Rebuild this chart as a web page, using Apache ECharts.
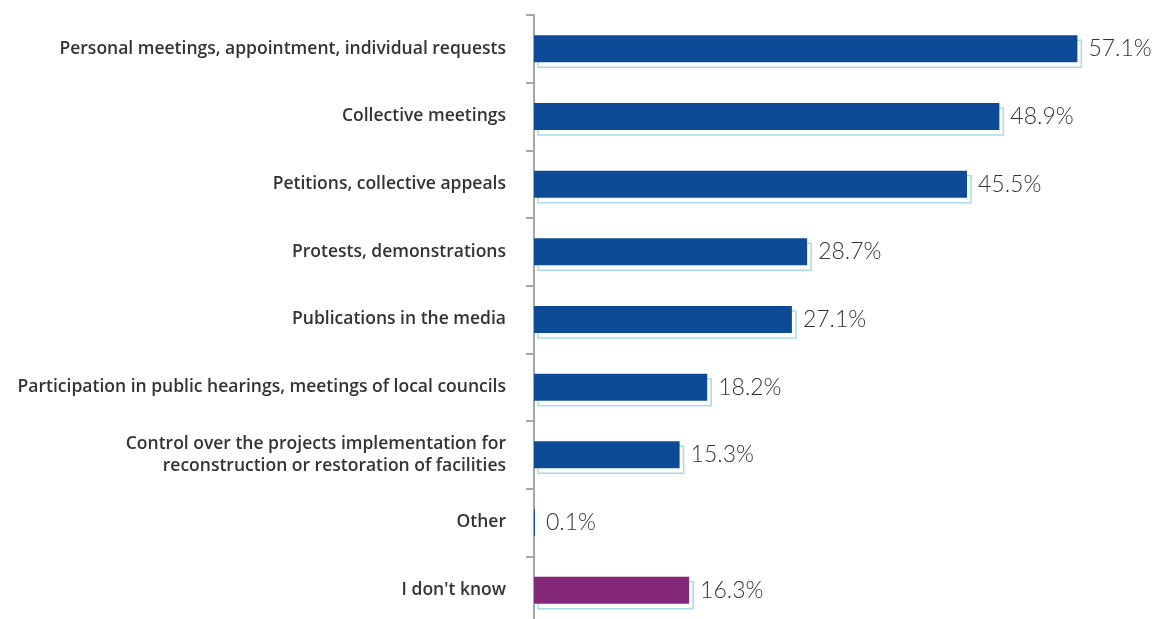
<!DOCTYPE html>
<html><head><meta charset="utf-8">
<script src="https://cdn.jsdelivr.net/npm/echarts@6/dist/echarts.min.js"></script>
<style>html,body{margin:0;padding:0;background:#fff;overflow:hidden}#c{width:1157px;height:626px}</style>
</head><body><div id="c"></div>
<script>
var categories = [
  "Personal meetings, appointment, individual requests",
  "Collective meetings",
  "Petitions, collective appeals",
  "Protests, demonstrations",
  "Publications in the media",
  "Participation in public hearings, meetings of local councils",
  "Control over the projects implementation for\nreconstruction or restoration of facilities",
  "Other",
  "I don't know"
];
var values = [57.1, 48.9, 45.5, 28.7, 27.1, 18.2, 15.3, 0.1, 16.3];
var barColors = ["#0e4b97","#0e4b97","#0e4b97","#0e4b97","#0e4b97","#0e4b97","#0e4b97","#0e4b97","#84287a"];

var chart = echarts.init(document.getElementById('c'));
chart.setOption({
  animation: false,
  grid: {left: 534, right: 52, top: 15, bottom: 2, containLabel: false},
  xAxis: {type: 'value', min: 0, max: 60, show: false},
  yAxis: {
    type: 'category', data: categories, inverse: true,
    axisLine: {lineStyle: {color: '#a6a6a6', width: 2}},
    axisTick: {show: true, length: 8, lineStyle: {color: '#a6a6a6', width: 2}},
    axisLabel: {margin: 28, color: '#333', fontFamily: 'Open Sans', fontWeight: 600, fontSize: 17.5, lineHeight: 22, align: 'right'}
  },
  series: [
    {
      type: 'custom', z: 1,
      data: values.map(function(v, i){ return [v, i]; }),
      renderItem: function(params, api) {
        var v = api.value(0), i = api.value(1);
        if (v < 0.5) return null;
        var p0 = api.coord([0, i]);
        var p1 = api.coord([v, i]);
        var h = 27;
        return {
          type: 'rect',
          shape: {x: p0[0] + 4, y: p0[1] - h/2 + 5, width: p1[0] - p0[0], height: h},
          style: {fill: '#fff', stroke: '#a6dbe9', lineWidth: 1.5}
        };
      }
    },
    {
      type: 'bar', z: 2, barWidth: 27,
      data: values.map(function(v, i){ return {value: v, itemStyle: {color: barColors[i]}}; }),
      label: {
        show: true, position: 'right', distance: 11,
        formatter: function(p){ return p.value.toFixed(1) + '%'; },
        color: '#333', fontFamily: 'Lato', fontWeight: 300, fontSize: 23
      }
    }
  ]
});
</script></body></html>
